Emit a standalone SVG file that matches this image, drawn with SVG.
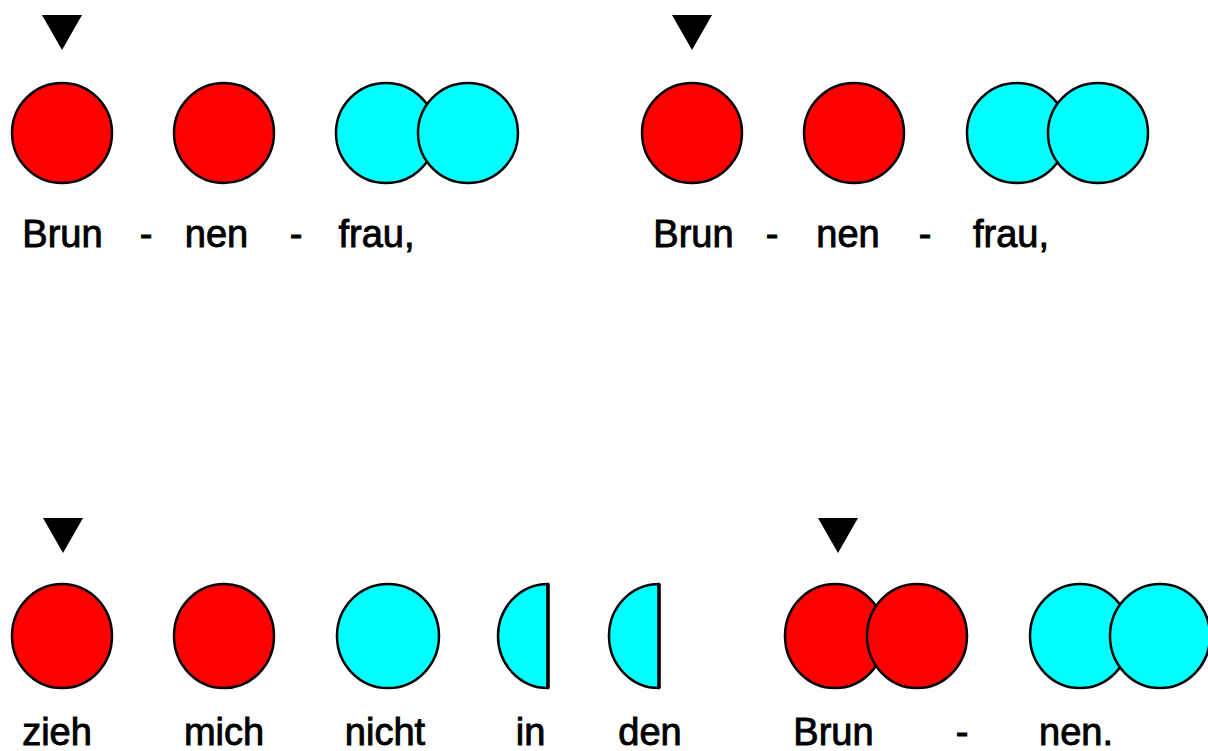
<svg xmlns="http://www.w3.org/2000/svg" width="1208" height="751" viewBox="0 0 1208 751">
<style>
.r{fill:#ff0000;stroke:#000;stroke-width:2.5}
.c{fill:#00ffff;stroke:#000;stroke-width:2.5}
.m{fill:#000}
.t{font-family:"Liberation Sans",Arial,sans-serif;font-size:38px;fill:#000;stroke:#000;stroke-width:0.9;text-anchor:middle}
</style>
<rect width="1208" height="751" fill="#fff"/>
<g id="line1">
  <g id="l1-brun"><polygon class="m" points="42,15 82,15 62,50"/><circle class="r" cx="62" cy="133" r="50"/><text class="t" x="62.5" y="247">Brun</text></g>
  <g id="l1-h1"><text class="t" x="146" y="247">-</text></g>
  <g id="l1-nen"><circle class="r" cx="224" cy="133" r="50"/><text class="t" x="216.5" y="247">nen</text></g>
  <g id="l1-h2"><text class="t" x="296" y="247">-</text></g>
  <g id="l1-frau"><circle class="c" cx="386" cy="133" r="50"/><circle class="c" cx="468" cy="133" r="50"/><text class="t" x="376.5" y="247">frau,</text></g>
</g>
<g id="line2">
  <g id="l2-brun"><polygon class="m" points="672,15 712,15 692,50"/><circle class="r" cx="692" cy="133" r="50"/><text class="t" x="693.5" y="247">Brun</text></g>
  <g id="l2-h1"><text class="t" x="772" y="247">-</text></g>
  <g id="l2-nen"><circle class="r" cx="854" cy="133" r="50"/><text class="t" x="848" y="247">nen</text></g>
  <g id="l2-h2"><text class="t" x="925" y="247">-</text></g>
  <g id="l2-frau"><circle class="c" cx="1017" cy="133" r="50"/><circle class="c" cx="1098" cy="133" r="50"/><text class="t" x="1011" y="247">frau,</text></g>
</g>
<g id="line3">
  <g id="l3-zieh"><polygon class="m" points="43,518 83,518 63,553"/><ellipse class="r" cx="62" cy="636" rx="50" ry="52"/><text class="t" x="57" y="745">zieh</text></g>
  <g id="l3-mich"><ellipse class="r" cx="224" cy="636" rx="50" ry="52"/><text class="t" x="224" y="745">mich</text></g>
  <g id="l3-nicht"><ellipse class="c" cx="388" cy="636" rx="51" ry="52"/><text class="t" x="385" y="745">nicht</text></g>
  <g id="l3-in"><path class="c" d="M548,584 A50,52 0 0 0 548,688 Z"/><line x1="548" y1="584" x2="548" y2="688" stroke="#000" stroke-width="3.5"/><text class="t" x="530.5" y="745">in</text></g>
  <g id="l3-den"><path class="c" d="M659,584 A50,52 0 0 0 659,688 Z"/><line x1="659" y1="584" x2="659" y2="688" stroke="#000" stroke-width="3.5"/><text class="t" x="650" y="745">den</text></g>
</g>
<g id="line4">
  <g id="l4-brun"><polygon class="m" points="818,518 858,518 838,553"/><ellipse class="r" cx="835" cy="636" rx="50" ry="52"/><ellipse class="r" cx="917" cy="636" rx="50" ry="52"/><text class="t" x="833.5" y="745">Brun</text></g>
  <g id="l4-h"><text class="t" x="962" y="745">-</text></g>
  <g id="l4-nen"><ellipse class="c" cx="1080" cy="636" rx="50" ry="52"/><ellipse class="c" cx="1160" cy="636" rx="50" ry="52"/><text class="t" x="1076" y="745">nen.</text></g>
</g>
<g id="connectors"/>
</svg>
